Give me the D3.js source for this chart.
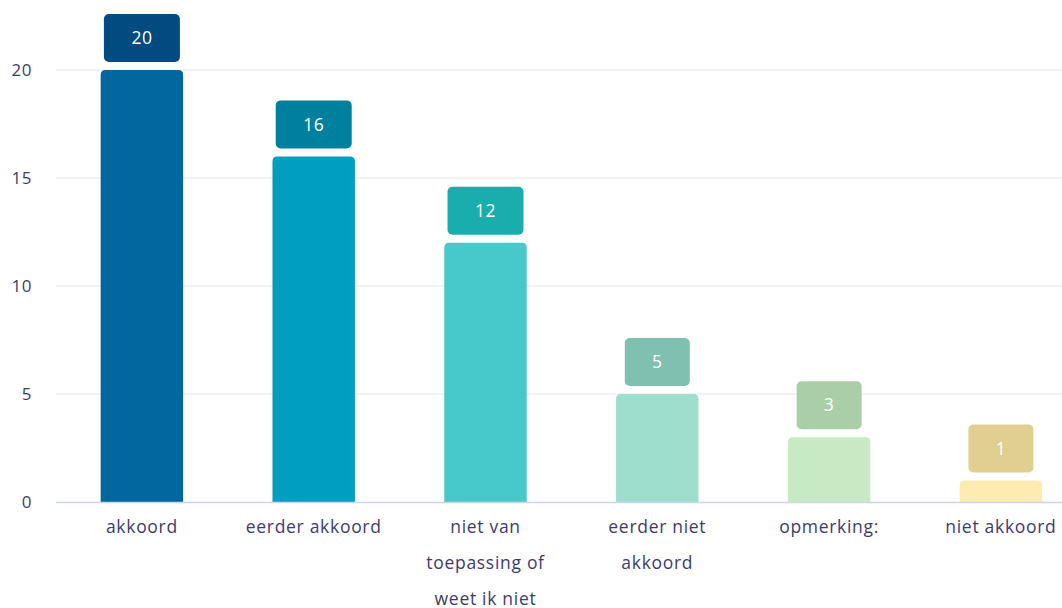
<!DOCTYPE html>
<html>
<head>
<meta charset="utf-8">
<script src="https://cdn.jsdelivr.net/npm/d3@7"></script>
<style>
  body { margin: 0; background: #fff; }
  svg text { font-family: "Open Sans", sans-serif; }
</style>
</head>
<body>
<svg id="chart" width="1062" height="608"></svg>
<script>
// ---------------------------------------------------------------------------
const categories = ['akkoord', 'eerder akkoord', 'niet van toepassing of weet ik niet',
                    'eerder niet akkoord', 'opmerking:', 'niet akkoord'];
const tickLines = [['akkoord'], ['eerder akkoord'], ['niet van', 'toepassing of', 'weet ik niet'],
                   ['eerder niet', 'akkoord'], ['opmerking:'], ['niet akkoord']];
const values = [20, 16, 12, 5, 3, 1];
const barColors = ['#02679f', '#009fc2', '#48c9c9', '#9ddecd', '#c7eac5', '#feebb0'];
const boxColors = ['#024b81', '#00809f', '#1aadad', '#7fc0b0', '#aacfa8', '#e0cf90'];
const yTicks = [0, 5, 10, 15, 20];

// ---------------------------------------------------------------------------
const svg = d3.select('#chart');
const left = 56, right = 1062, zeroY = 502, step = 171.8;

const x = d3.scaleBand()
  .domain(categories)
  .range([left, left + step * categories.length])
  .paddingInner(0.52)
  .paddingOuter(0.26);

const y = d3.scaleLinear().domain([0, 20]).range([zeroY, 70]);

// grid
svg.append('g').selectAll('line')
  .data(yTicks.filter(d => d > 0))
  .join('line')
  .attr('x1', left).attr('x2', right)
  .attr('y1', d => y(d)).attr('y2', d => y(d))
  .attr('stroke', '#e6e6e6').attr('stroke-width', 1);

// y labels
svg.append('g').selectAll('text')
  .data(yTicks)
  .join('text')
  .attr('x', 32).attr('y', d => y(d))
  .attr('dy', '0.35em')
  .attr('text-anchor', 'end')
  .attr('fill', '#3d3b6e')
  .attr('font-size', 17)
  .attr('letter-spacing', 0.5)
  .text(d => d);

// bars with rounded tops
function topRounded(x0, y0, w, h, r) {
  r = Math.min(r, h, w / 2);
  return `M${x0},${y0 + h}V${y0 + r}Q${x0},${y0} ${x0 + r},${y0}` +
         `H${x0 + w - r}Q${x0 + w},${y0} ${x0 + w},${y0 + r}V${y0 + h}Z`;
}

svg.append('g').selectAll('path')
  .data(values)
  .join('path')
  .attr('d', (d, i) => topRounded(x(categories[i]), y(d), x.bandwidth(), zeroY - y(d), 5))
  .attr('fill', (d, i) => barColors[i]);

// baseline
svg.append('line')
  .attr('x1', left).attr('x2', right)
  .attr('y1', zeroY + 0.5).attr('y2', zeroY + 0.5)
  .attr('stroke', '#ccd6eb').attr('stroke-width', 1.5);

// value boxes
const boxes = svg.append('g').selectAll('g')
  .data(values)
  .join('g')
  .attr('transform', (d, i) => `translate(${x(categories[i]) + x.bandwidth() / 2},${y(d) - 8})`);

boxes.append('rect')
  .attr('x', d => String(d).length > 1 ? -38 : -32.5)
  .attr('width', d => String(d).length > 1 ? 76 : 65)
  .attr('y', -48).attr('height', 48)
  .attr('rx', 5)
  .attr('fill', (d, i) => boxColors[i]);

boxes.append('text')
  .attr('y', -24).attr('dy', '0.35em')
  .attr('text-anchor', 'middle')
  .attr('fill', '#ffffff')
  .attr('font-size', 17.5)
  .attr('letter-spacing', 0.5)
  .text(d => d);

// x labels
const xl = svg.append('g').selectAll('text')
  .data(tickLines)
  .join('text')
  .attr('text-anchor', 'middle')
  .attr('fill', '#3d3b6e')
  .attr('font-size', 17.5)
  .attr('letter-spacing', 0.7)
  .attr('transform', (d, i) => `translate(${x(categories[i]) + x.bandwidth() / 2},527)`);

xl.selectAll('tspan')
  .data(d => d)
  .join('tspan')
  .attr('x', 0)
  .attr('y', (d, j) => j * 36)
  .attr('dy', '0.32em')
  .text(d => d);
</script>
</body>
</html>
